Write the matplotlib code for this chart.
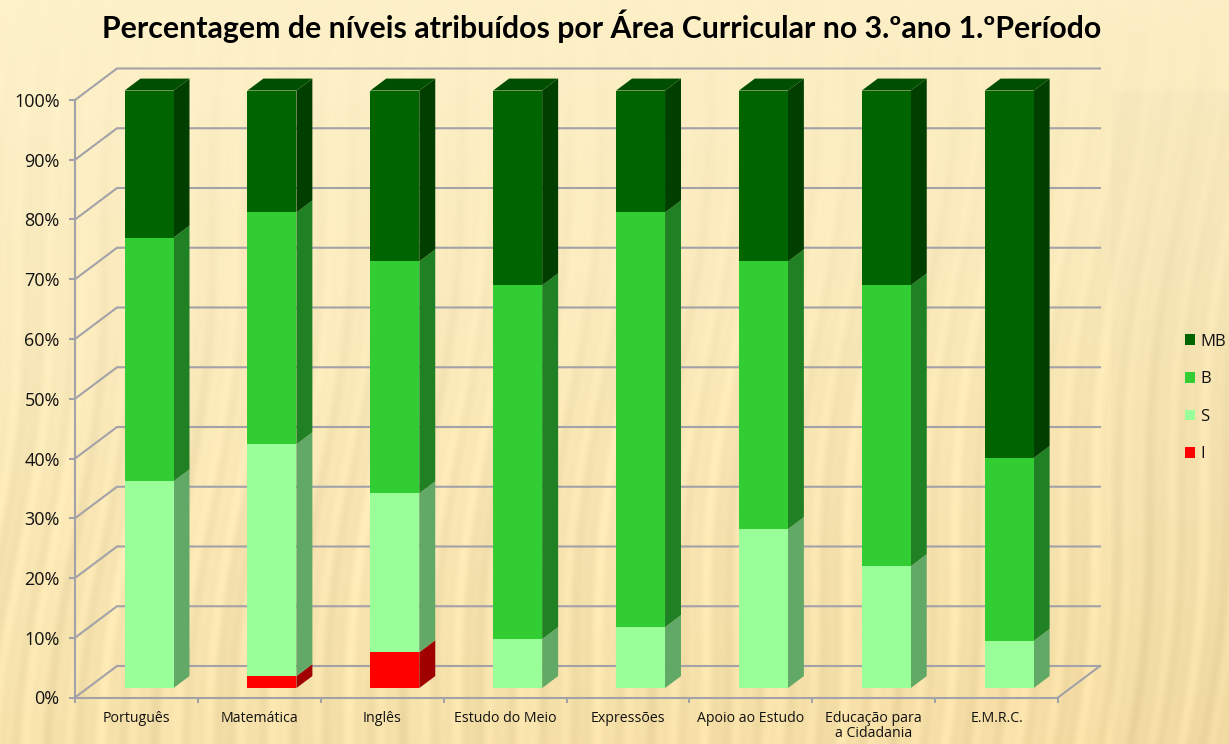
import numpy as np
import matplotlib
matplotlib.use("Agg")
import matplotlib.pyplot as plt
from matplotlib.patches import Polygon, Patch

categories = ["Português", "Matemática", "Inglês", "Estudo do Meio", "Expressões",
              "Apoio ao Estudo", "Educação para\na Cidadania", "E.M.R.C."]
level_names = ["I", "S", "B", "MB"]
level_i = [0, 2, 6, 0, 0, 0, 0, 0]
level_s = [34.6, 38.8, 26.6, 8.2, 10.2, 26.6, 20.4, 7.9]
level_b = [40.8, 38.8, 38.8, 59.2, 69.4, 44.8, 47.0, 30.6]
level_mb = [24.6, 20.4, 28.6, 32.6, 20.4, 28.6, 32.6, 61.5]
pct_ticks = list(range(0, 101, 10))

front_colors = ["#ff0000", "#99ff99", "#32cd32", "#006400"]
side_colors = ["#a00000", "#62a866", "#1f8024", "#003f00"]
top_color = "#004f00"
grid_color = "#a2a2a8"

W, H = 1229, 744
fig = plt.figure(figsize=(W / 100, H / 100), dpi=100)

# wood background, stripes only, built from sines
bg = fig.add_axes([0, 0, 1, 1], zorder=0)
yy, xx = np.mgrid[0:H, 0:W]
u = xx + 0.10 * yy + 9 * np.sin(yy / 90 + xx / 300)
stripes = 0.5 * np.sin(u / 5.5) + 0.3 * np.sin(u / 2.4 + 1.3) + 0.2 * np.sin(u / 13)
strength = np.clip(yy / H * 1.3 + 0.05, 0, 1)
shade = np.clip((yy / H) * 0.75 + (xx / W) * 0.15, 0, 1)
light = np.array([254, 242, 203]) / 255
dark = np.array([244, 220, 160]) / 255
img = light[None, None, :] * (1 - shade[..., None]) + dark[None, None, :] * shade[..., None]
img = img + (stripes * strength * 0.036)[..., None]
patch = (xx > 1110) & (yy > 90)
img[patch] = img[patch] * 0.985
bg.imshow(np.clip(img, 0, 1), aspect="auto", extent=(0, W, H, 0))
bg.axis("off")

# axes rectangle is the front floor edge of the 3d box
x0, x1, y_bot, y_top = 75, 1058, 697.5, 100
ax = fig.add_axes([x0 / W, 1 - y_bot / H, (x1 - x0) / W, (y_bot - y_top) / H], zorder=1)
ax.patch.set_alpha(0)
ax.set_xlim(0, len(categories))
ax.set_ylim(0, 100)
px_x = (x1 - x0) / len(categories)
px_y = (y_bot - y_top) / 100
dx = 42 / px_x
dy = 31.5 / px_y


def proj(x, y, depth):
    return x + depth * dx, y + depth * dy


# walls
n = len(categories)
for p in pct_ticks:
    a = proj(0, p, 0)
    b = proj(0, p, 1)
    c = proj(n, p, 1)
    ax.plot([a[0], b[0], c[0]], [a[1], b[1], c[1]], color=grid_color, lw=1.5,
            clip_on=False, zorder=1, solid_joinstyle="miter")
a = proj(n, 0, 0)
b = proj(n, 0, 1)
ax.plot([a[0], b[0]], [a[1], b[1]], color=grid_color, lw=1.5, clip_on=False, zorder=1)

# stacked bars
bar_w = 49 / px_x
d_front = 0.30
d_back = 0.68
series = [level_i, level_s, level_b, level_mb]
for i in range(n):
    bottom = 0
    left = i + 0.5 - bar_w / 2
    right = left + bar_w
    for k, vals in enumerate(series):
        v = vals[i]
        if v == 0:
            continue
        top = bottom + v
        fl = proj(left, bottom, d_front)
        fr = proj(right, bottom, d_front)
        tr = proj(right, top, d_front)
        tl = proj(left, top, d_front)
        br = proj(right, bottom, d_back)
        bt = proj(right, top, d_back)
        ax.add_patch(Polygon([fr, br, bt, tr], closed=True, fc=side_colors[k], ec="none",
                             clip_on=False, zorder=3))
        ax.add_patch(Polygon([fl, fr, tr, tl], closed=True, fc=front_colors[k], ec="none",
                             clip_on=False, zorder=4))
        if k == len(series) - 1:
            lt = proj(left, top, d_back)
            ax.add_patch(Polygon([tl, tr, bt, lt], closed=True, fc=top_color, ec="none",
                                 clip_on=False, zorder=3))
        bottom = top

for s in ["top", "right"]:
    ax.spines[s].set_visible(False)
for s in ["left", "bottom"]:
    ax.spines[s].set_color(grid_color)
    ax.spines[s].set_linewidth(1.5)
    ax.spines[s].set_zorder(2)

ax.set_yticks(pct_ticks)
ax.set_yticklabels([f"{p}%" for p in pct_ticks], fontsize=13, family="Open Sans", color="#111111")
ax.tick_params(axis="y", length=4, width=1.5, color=grid_color, pad=7)
ax.set_xticks(range(n + 1))
ax.set_xticklabels([])
ax.tick_params(axis="x", which="major", length=3.5, width=1.5, color=grid_color)
ax.set_xticks(np.arange(n) + 0.5, minor=True)
ax.set_xticklabels(categories, minor=True, fontsize=10.2, family="Open Sans", color="#111111",
                   linespacing=1.0)
ax.tick_params(axis="x", which="minor", length=0, pad=10)

fig.text(601.5 / W, 1 - 26 / H, "Percentagem de níveis atribuídos por Área Curricular no 3.ºano 1.ºPeríodo",
         ha="center", va="center", fontsize=21.75, fontweight="bold", family="Lato", color="#000000")

handles = [Patch(fc=front_colors[k], ec="none", label=level_names[k]) for k in [3, 2, 1, 0]]
fig.legend(handles=handles, loc="center left", bbox_to_anchor=(1185 / W, 1 - 398 / H), frameon=False,
           prop={"family": "Open Sans", "size": 12}, handlelength=0.6, handleheight=0.6,
           handletextpad=0.3, labelspacing=1.3, borderpad=0, borderaxespad=0, labelcolor="#111111")

fig.savefig("out.png", dpi=100)
